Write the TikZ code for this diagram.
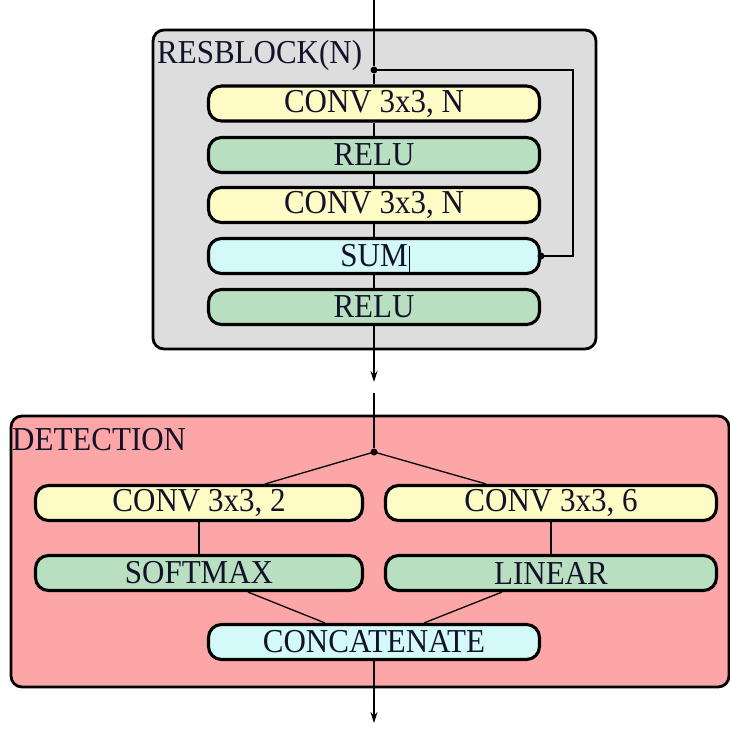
\documentclass[tikz,border=0pt]{standalone}
\usepackage{fontspec}
\usepackage{graphicx}
\setmainfont{Liberation Serif}
\usetikzlibrary{arrows.meta}
\definecolor{blockgray}{HTML}{DDDDDD}
\definecolor{blockpink}{HTML}{FCA6A8}
\definecolor{convyellow}{HTML}{FFFBC4}
\definecolor{actgreen}{HTML}{B9DFC1}
\definecolor{sumcyan}{HTML}{D3F9F8}
\definecolor{txtcol}{HTML}{12122A}
\newcommand\tallt[1]{\scalebox{1}[1.08]{#1}}
\begin{document}
\begin{tikzpicture}[x=1pt,y=-1pt,
  container/.style={draw=black, line width=2.8pt, rounded corners=11pt, inner sep=0pt},
  layerbox/.style={draw=black, line width=3.1pt, rounded corners=13pt, minimum height=35pt, minimum width=331pt, inner sep=0pt, font=\fontsize{31}{32}\selectfont, text=txtcol},
  conv/.style={layerbox, fill=convyellow},
  act/.style={layerbox, fill=actgreen},
  sumb/.style={layerbox, fill=sumcyan},
  title/.style={anchor=north west, inner sep=0pt, font=\fontsize{31}{32}\selectfont, text=txtcol},
  link/.style={line width=1.3pt, draw=black},
  arr/.style={link, -{Stealth[length=11pt,width=7pt]}},
  dotc/.style={circle, fill=black, inner sep=0pt, minimum size=7pt}
]
\useasboundingbox (0,0) rectangle (730,728);

% ---- RESBLOCK ----
\node[container, fill=blockgray, minimum width=443pt, minimum height=319pt] (res) at (374.5,189.5) {};
\node[title] (restitle) at (157,40) {\tallt{RESBLOCK(N)}};

\node[conv] (c1) at (374,103.5) {\tallt{CONV 3x3, N}};
\node[act]  (r1) at (374,155) {\tallt{RELU}};
\node[conv] (c2) at (374,205) {\tallt{CONV 3x3, N}};
\node[sumb] (s)  at (374,256) {\tallt{SUM}};
\node[act]  (r2) at (374,307) {\tallt{RELU}};

\coordinate (in) at (374,0);
\node[dotc] (split) at (374,70) {};
\coordinate (loopa) at (573,70);
\coordinate (loopb) at (573,256);
\node[dotc] (sumdot) at (s.east) {};
\coordinate (out1) at (374,382);

\draw[link] (in) -- (split);
\draw[link] (split) -- (c1);
\draw[link] (c1) -- (r1);
\draw[link] (r1) -- (c2);
\draw[link] (c2) -- (s);
\draw[link] (s) -- (r2);
\draw[link] (split.center) -- (loopa) -- (loopb) -- (sumdot.center);
\draw[arr] (r2) -- (out1);
\draw[line width=0.7pt] (409.5,246) -- (409.5,275);

% ---- DETECTION ----
\node[container, fill=blockpink, minimum width=718pt, minimum height=271pt] (det) at (370,551.5) {};
\node[title] (dettitle) at (12,428) {\tallt{DETECTION}};

\coordinate (in2) at (374,393);
\node[dotc] (split2) at (374,452) {};
\node[conv, minimum width=327pt] (cl) at (199,503) {\tallt{CONV 3x3, 2}};
\node[conv] (cr) at (551,503) {\tallt{CONV 3x3, 6}};
\node[act, minimum width=327pt]  (sm) at (199,573) {\tallt{SOFTMAX}};
\node[act]  (lin) at (551,573) {\tallt{LINEAR}};
\node[sumb] (cat) at (374,642) {\tallt{CONCATENATE}};
\coordinate (out2) at (374,723);

\draw[link] (in2) -- (split2);
\draw[link] (split2.center) -- (cl.north -| 265,0);
\draw[link] (split2.center) -- (cr.north -| 486,0);
\draw[link] (cl) -- (sm);
\draw[link] (cr) -- (lin);
\draw[link] (sm.south -| 248,0) -- (cat.north -| 325,0);
\draw[link] (lin.south -| 502,0) -- (cat.north -| 424,0);
\draw[arr] (cat) -- (out2);
\end{tikzpicture}
\end{document}
